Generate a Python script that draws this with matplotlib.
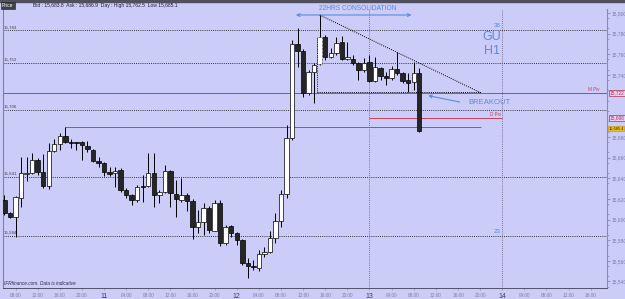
import numpy as np
import matplotlib
matplotlib.use('Agg')
import matplotlib.pyplot as plt
import matplotlib.transforms as mtrans

plt.rcParams['font.family'] = ['Liberation Sans', 'DejaVu Sans']

# -- hourly GU candles, hours counted from the 10th 00:00 (10th 06:00 .. 13th 09:00)
hours = np.arange(6, 82)
opens = [15618.9, 15606.6, 15602.7, 15620.5, 15644.5, 15645.3, 15657.6, 15646.3, 15632.4, 15666.6,
         15672.8, 15681.1, 15675.3, 15674.3, 15675.3, 15671.4, 15667.3, 15656.9, 15655.0, 15646.3,
         15644.7, 15647.9, 15628.6, 15623.7, 15618.9, 15631.8, 15632.7, 15645.3, 15623.7, 15626.9,
         15647.2, 15624.7, 15618.9, 15623.7, 15617.9, 15593.0, 15597.3, 15610.9, 15589.2, 15616.3,
         15577.0, 15593.7, 15586.6, 15580.2, 15558.2, 15555.0, 15552.8, 15566.3, 15568.9, 15581.8,
         15598.6, 15624.4, 15678.6, 15769.9, 15763.4, 15722.7, 15743.1, 15750.3, 15776.4, 15757.6,
         15761.5, 15771.5, 15755.1, 15755.1, 15751.2, 15744.7, 15752.8, 15734.4, 15746.4, 15738.9,
         15736.7, 15745.4, 15742.1, 15735.0, 15733.4, 15741.5]
highs = [15623.7, 15607.6, 15622.8, 15660.2, 15660.8, 15664.7, 15659.5, 15663.4, 15674.1, 15677.9,
         15684.0, 15689.3, 15677.6, 15675.3, 15676.3, 15676.3, 15668.0, 15660.8, 15656.0, 15651.1,
         15651.1, 15649.5, 15630.5, 15624.5, 15633.4, 15643.1, 15664.1, 15664.1, 15628.6, 15652.8,
         15647.9, 15638.2, 15640.2, 15625.7, 15619.9, 15609.2, 15615.7, 15613.1, 15618.9, 15618.9,
         15594.7, 15594.7, 15587.9, 15581.2, 15562.7, 15560.8, 15570.5, 15573.7, 15589.2, 15606.0,
         15628.6, 15691.5, 15773.8, 15785.1, 15764.8, 15744.7, 15751.8, 15798.0, 15778.6, 15765.7,
         15777.0, 15777.6, 15772.1, 15759.2, 15752.8, 15756.0, 15759.2, 15757.6, 15747.3, 15743.1,
         15748.6, 15762.5, 15743.1, 15741.5, 15752.8, 15746.4]
lows = [15604.4, 15601.2, 15583.4, 15611.8, 15637.0, 15644.1, 15643.1, 15630.5, 15629.5, 15665.6,
        15667.3, 15673.8, 15668.9, 15667.3, 15657.6, 15665.6, 15656.0, 15651.1, 15642.1, 15642.1,
        15631.8, 15626.9, 15620.5, 15614.1, 15617.3, 15617.3, 15631.8, 15611.8, 15615.7, 15625.4,
        15612.4, 15602.7, 15617.3, 15608.5, 15580.8, 15586.9, 15585.0, 15586.9, 15588.9, 15574.4,
        15575.3, 15583.4, 15575.3, 15556.0, 15543.1, 15551.1, 15550.4, 15564.0, 15567.3, 15577.0,
        15593.0, 15620.5, 15677.0, 15747.9, 15718.3, 15720.5, 15712.5, 15749.6, 15754.4, 15756.0,
        15759.2, 15754.4, 15754.4, 15749.6, 15735.0, 15743.1, 15733.4, 15733.4, 15735.0, 15730.2,
        15735.0, 15739.9, 15732.4, 15723.7, 15725.4, 15685.1]
closes = [15606.6, 15602.7, 15621.5, 15644.7, 15645.0, 15657.6, 15646.3, 15632.4, 15666.6, 15673.1,
          15681.1, 15675.3, 15674.3, 15674.0, 15672.1, 15668.0, 15656.9, 15655.0, 15646.3, 15644.1,
          15647.2, 15628.6, 15623.7, 15618.9, 15631.2, 15631.5, 15645.3, 15623.7, 15626.9, 15647.2,
          15625.4, 15619.6, 15623.7, 15617.9, 15593.0, 15597.3, 15610.9, 15589.8, 15616.3, 15577.6,
          15593.0, 15587.2, 15580.2, 15558.2, 15555.0, 15554.3, 15566.3, 15568.9, 15581.8, 15598.6,
          15624.4, 15678.6, 15769.9, 15763.4, 15722.7, 15743.1, 15749.6, 15776.4, 15757.6, 15761.5,
          15770.6, 15755.1, 15757.6, 15751.2, 15744.7, 15751.8, 15734.4, 15747.3, 15739.2, 15736.7,
          15745.4, 15741.5, 15734.4, 15732.4, 15741.5, 15685.4]

# -- levels on the chart
grid_levels = [15783, 15752, 15706, 15641, 15584]
grid_labels = ['15,783', '15,752', '15,706', '15,641', '15,584']
m_piv = 15722.5
d_piv = 15698.5
prior_high = 15689.3
last_price = 15685.4
# 15,720 / 15,700 sit under the pivot boxes
price_ticks = [15540, 15560, 15580, 15600, 15620, 15640, 15660, 15680, 15740, 15760, 15780, 15800]

# -- time axis (every 4 hours)
tick_hours = [8, 12, 16, 20, 24, 28, 32, 36, 40, 44, 48, 52, 56, 60, 64, 68, 72, 76, 80, 84, 88, 92,
              96, 100, 104, 108, 112]
tick_labels = ['08:00', '12:00', '16:00', '20:00', '11', '04:00', '08:00', '12:00', '16:00', '20:00',
               '12', '04:00', '08:00', '12:00', '16:00', '20:00', '13', '04:00', '08:00', '12:00',
               '16:00', '20:00', '14', '04:00', '08:00', '12:00', '16:00']
day_starts = [72, 96]

BG = '#ccccf8'
BLUE = '#5a8cd8'
PIV = '#c8405a'

fig = plt.figure(figsize=(6.25, 2.99), dpi=100, facecolor=BG)
ax = fig.add_axes([3 / 625, 1 - 288 / 299, 604 / 625, 279 / 299], facecolor=BG)
ax.set_xlim(5.73, 114.95)
ax.set_ylim(15533.7, 15803.8)

# -- grid / level lines
for v, lab in zip(grid_levels, grid_labels):
    ax.axhline(v, color='#333340', lw=0.7, ls=(0, (1, 1.2)), zorder=1)
    ax.text(5.9, v + 1.2, lab, fontsize=3.2, color='#404050', va='bottom', ha='left')
for d in day_starts:
    ax.axvline(d, color='#5a5a78', lw=0.6, ls=(0, (1, 1.5)), zorder=1)

# -- pivots and prior high
ax.axhline(m_piv, color=PIV, lw=0.7, zorder=2)
ax.text(113.6, m_piv + 0.8, 'M Piv', fontsize=3.3, color=PIV, ha='right', va='bottom')
ax.hlines(d_piv, 72, 96, color=PIV, lw=0.7, zorder=2)
ax.text(95.8, d_piv + 0.8, 'D Piv', fontsize=3.3, color=PIV, ha='right', va='bottom')
ax.hlines(prior_high, hours[11], 92.2, color='#6c6c80', lw=0.7, zorder=2)

# -- candles
bottoms = [min(o, c) for o, c in zip(opens, closes)]
heights = [max(abs(c - o), 0.7) for o, c in zip(opens, closes)]
colors = ['white' if c >= o else '#262626' for o, c in zip(opens, closes)]
ax.vlines(hours, lows, highs, color='black', lw=0.7, zorder=3)
bars = ax.bar(hours, heights, bottom=bottoms, width=0.8, color=colors, edgecolor='black', lw=0.5, zorder=4)
bars[57].set_linestyle((0, (1, 1)))

# -- consolidation triangle
ax.plot([hours[57], 92.2], [highs[57], m_piv], color='black', lw=0.7, ls=(0, (1, 1.2)), zorder=5)
ax.hlines(m_piv + 0.8, hours[57] - 0.4, 92.2, color='black', lw=0.7, ls=(0, (1, 1.2)), zorder=5)
ax.vlines(hours[57] - 0.4, m_piv + 0.8, 15776, color='black', lw=0.6, ls=(0, (1, 1.2)), zorder=5)
ax.annotate('', xy=(80.1, 15798), xytext=(58.2, 15798),
            arrowprops=dict(arrowstyle='<->', color=BLUE, lw=0.8, mutation_scale=5), annotation_clip=False)
ax.text(69.9, 15804.5, '22HRS CONSOLIDATION', fontsize=4.8, color=BLUE, ha='center', va='center',
        clip_on=False)

# -- breakout
ax.annotate('', xy=(82.1, 15720.5), xytext=(88.8, 15713.2),
            arrowprops=dict(arrowstyle='->', color=BLUE, lw=0.8, mutation_scale=5))
ax.text(89.8, 15712.8, 'BREAKOUT', fontsize=5.5, color=BLUE, ha='left', va='center')

# -- instrument tag
ax.text(94.2, 15776.5, 'GU', fontsize=9, color=BLUE, ha='center', va='center')
ax.text(94.2, 15763.5, 'H1', fontsize=9, color=BLUE, ha='center', va='center')
ax.text(95.1, 15787.5, '38', fontsize=4.5, color=BLUE, ha='center', va='center')
ax.text(95.1, 15588, '23', fontsize=4.5, color=BLUE, ha='center', va='center')

ax.text(5.9, 15535.5, 'IFRfinance.com. Data is indicative', fontsize=3.4, color='#303040',
        ha='left', va='bottom', style='italic')

# -- axes styling
ax.yaxis.tick_right()
ax.set_yticks(price_ticks)
ax.set_yticklabels([f'{v:,}' for v in price_ticks])
ax.set_yticks(np.arange(15535, 15805, 10), minor=True)
ax.tick_params(axis='y', which='major', length=2, width=0.5, pad=1, labelsize=3.5,
               colors='#7a7aa8', labelcolor='#7a7aa8')
ax.tick_params(axis='y', which='minor', length=1.2, width=0.4, colors='#7a7aa8')
ax.set_xticks(tick_hours)
ax.set_xticklabels(tick_labels)
ax.tick_params(axis='x', length=1.5, width=0.4, pad=2, labelsize=3.4, colors='#8080a0',
               labelcolor='#8080a0')
for lab in ax.get_xticklabels():
    if ':' not in lab.get_text():
        lab.set_fontsize(5)
        lab.set_color('#404060')
ax.spines['top'].set_visible(False)
ax.spines['bottom'].set_linestyle((0, (1, 1)))
ax.spines['bottom'].set_color('#404050')
ax.spines['bottom'].set_linewidth(0.6)
ax.spines['left'].set_color('#8080b0')
ax.spines['right'].set_color('#8a8ab8')
ax.spines['left'].set_linewidth(0.8)
ax.spines['right'].set_linewidth(0.8)

# -- price boxes on the right scale
tr = mtrans.blended_transform_factory(ax.transAxes, ax.transData)
ax.text(1.004, m_piv, '15,722', transform=tr, fontsize=3.4, color='#b03050', va='center', ha='left',
        bbox=dict(boxstyle='square,pad=0.15', fc='#e8d0f0', ec='#b03050', lw=0.5), clip_on=False, zorder=6)
ax.text(1.004, d_piv, '15,698', transform=tr, fontsize=3.4, color='#b03050', va='center', ha='left',
        bbox=dict(boxstyle='square,pad=0.15', fc='#e8d0f0', ec='#b03050', lw=0.5), clip_on=False, zorder=6)
ax.text(1.002, last_price + 2.5, '15,685.4', transform=tr, fontsize=2.9, color='#303010', va='center',
        ha='left', bbox=dict(boxstyle='square,pad=0.12', fc='#f0c020', ec='#c09010', lw=0.4),
        clip_on=False, zorder=6)

# -- header strip
fig.patches.append(plt.Rectangle((0, 1 - 1.5 / 299), 1, 1.5 / 299, transform=fig.transFigure,
                                 color='#505060', zorder=0))
fig.text(2 / 625, 1 - 5.5 / 299, 'Price', fontsize=3.6, color='white', va='center', ha='left',
         bbox=dict(boxstyle='square,pad=0.25', fc='#404048', ec='#202020', lw=0.4))
fig.text(33 / 625, 1 - 5.5 / 299, 'Bid : 15,683.8  Ask : 15,686.9  Day : High 15,762.5  Low 15,685.1',
         fontsize=3.6, color='#202030', va='center', ha='left')

plt.savefig('out.png', dpi=100, facecolor=BG)
